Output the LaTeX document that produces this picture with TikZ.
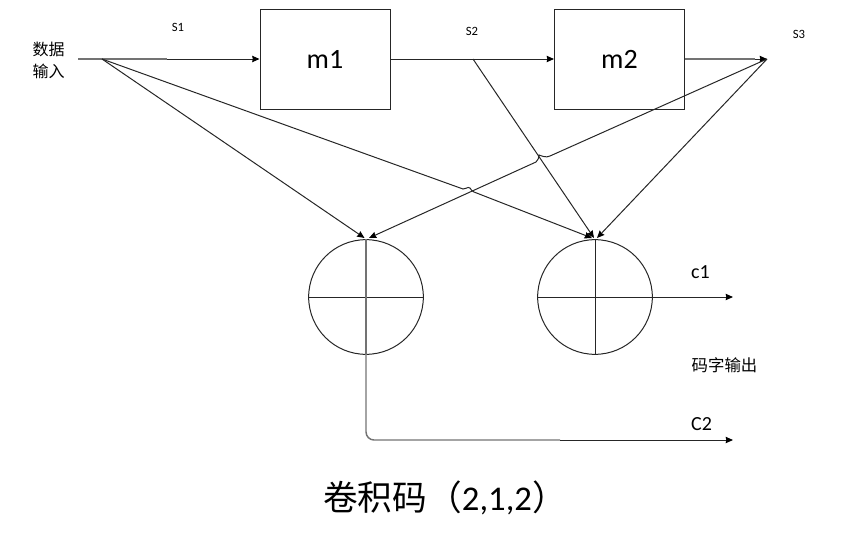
\documentclass[tikz,border=0pt]{standalone}
\usepackage{fontspec}
\setmainfont{Carlito}
\newfontfamily\cjk{Noto Sans CJK SC}
\usetikzlibrary{arrows.meta}
\tikzset{
  wire/.style={line width=0.75pt,draw=black!85,-{Stealth[length=5.5pt,width=4.8pt,inset=0.5pt,black]}},
  plain/.style={line width=0.75pt,draw=black!85},
  greywire/.style={line width=1.1pt,draw=black!55},
  regbox/.style={draw=black!85,line width=0.75pt,minimum width=97.5pt,minimum height=75pt,inner sep=0pt,font=\fontsize{21}{21}\selectfont},
  adder/.style={draw=black!85,line width=0.75pt,circle,minimum size=86pt,inner sep=0pt},
  small/.style={inner sep=0pt,font=\fontsize{9.5}{11}\selectfont},
  mid/.style={inner sep=0pt,font=\fontsize{15}{16}\selectfont},
  cn/.style={inner sep=0pt,font=\cjk\fontsize{12}{14}\selectfont},
}
\begin{document}
\begin{tikzpicture}[x=0.75pt,y=-0.75pt]
\useasboundingbox (0,0) rectangle (850,543);
\node[regbox] (m1) at (325,59) {m1};
\node[regbox] (m2) at (619.5,59) {m2};
\node[adder] (a1) at (366,297) {};
\node[adder] (a2) at (595,297) {};
\coordinate (in) at (78,59);
\coordinate (j1) at (102,59);
\coordinate (mid1) at (167,59);
\coordinate (s2) at (473,59);
\coordinate (s3) at (767,59);
\coordinate (s3a) at (755,59);
\coordinate (a1l) at (364.5,238);
\coordinate (a1r) at (369,238);
\coordinate (a2l) at (592,238);
\coordinate (a2m) at (594,238);
\coordinate (a2r) at (597,238);
\coordinate (o1) at (733,297);
\coordinate (o2) at (733,440);
\coordinate (turn) at (366,440);
\coordinate (mid2) at (560,440);
% input and register chain
\draw[greywire] (in) -- (mid1);
\draw[wire] (mid1) -- (m1.west);
\draw[wire] (m1.east) -- (m2.west);
\draw[greywire] (m2.east) -- (s3a);
\draw[wire] (s3a) -- (s3);
% taps
\draw[wire] (j1) -- (a1l);
\draw[wire] (j1) -- (463,189) .. controls (466,190) and (467,186) .. (470,188) .. controls (471,190) and (472,191) .. (474,192) -- (a2l);
\draw[wire] (s3) -- (550,156) .. controls (546,158) and (542,156) .. (539,155) .. controls (539,158) and (538,160) .. (536,162) -- (a1r);
\draw[wire] (s2) -- (a2m);
\draw[wire] (s3) -- (a2r);
% adder crosses
\draw[plain] (a1.west) -- (a1.east);
\draw[plain] (a2.west) -- (a2.east);
\draw[greywire] (a1.north) -- (a1.south);
\draw[plain] (a2.north) -- (a2.south);
% outputs
\draw[wire] (a2.east) -- (o1);
\draw[greywire,rounded corners=6pt] (a1.south) -- (turn) -- (mid2);
\draw[wire] (mid2) -- (o2);
% labels
\node[small] (ls1) at (178,27) {S1};
\node[small] (ls2) at (472,31) {S2};
\node[small] (ls3) at (799,34) {S3};
\node[mid] (lc1) at (700.5,272) {c1};
\node[mid] (lc2) at (701.5,424) {C2};
\node[cn] (lin1) at (48.5,49) {数据};
\node[cn] (lin2) at (48.5,71) {输入};
\node[cn,font=\cjk\fontsize{12.3}{14}\selectfont] (lout) at (724.5,365) {码字输出};
\node[inner sep=0pt,font=\fontsize{26}{30}\selectfont] (title) at (445,498) {{\cjk 卷积码（}2,1,2{\cjk ）}};
\end{tikzpicture}
\end{document}
